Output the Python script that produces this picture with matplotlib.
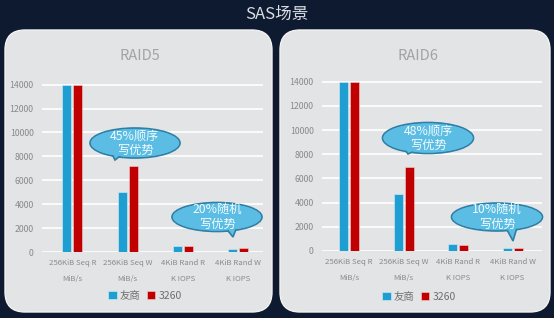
import matplotlib.pyplot as plt
from matplotlib.patches import FancyBboxPatch, Ellipse, Polygon

plt.rcParams['font.family'] = ['Noto Sans CJK SC', 'DejaVu Sans']

# data
categories = ['256KiB Seq R\nMiB/s', '256KiB Seq W\nMiB/s', '4KiB Rand R\nK IOPS', '4KiB Rand W\nK IOPS']
series_names = ['友商', '3260']
raid5_other = [14000, 5000, 500, 250]
raid5_3260 = [14000, 7200, 520, 300]
raid6_other = [14000, 4700, 550, 220]
raid6_3260 = [14000, 6950, 520, 240]
yticks = [0, 2000, 4000, 6000, 8000, 10000, 12000, 14000]

W, H = 554, 318
BLUE = '#1f9fd1'
RED = '#c00000'
PANEL = '#e3e4e6'
GRAY = '#8a8a8a'
BUB = '#5bbde3'
BUB_EDGE = '#2f7ea5'

fig = plt.figure(figsize=(W / 100, H / 100), dpi=100)
fig.patch.set_facecolor('#0e1a2f')


def fx(x):
    return x / W


def fy(y):
    return 1 - y / H


# 背景用（ピクセル座標）
bg = fig.add_axes([0, 0, 1, 1], zorder=-5)
bg.set_xlim(0, W)
bg.set_ylim(H, 0)
bg.axis('off')
for x0, x1 in [(5, 272), (280, 550)]:
    bg.add_patch(FancyBboxPatch((x0, 30), x1 - x0, 282,
                                boxstyle='round,pad=0,rounding_size=20',
                                facecolor=PANEL, edgecolor='#f2f2f2', lw=1))
bg.text(W / 2, 14, 'SAS场景', ha='center', va='center', color='#d9dee6', fontsize=12)

# 吹き出し用
fg = fig.add_axes([0, 0, 1, 1], zorder=5)
fg.set_xlim(0, W)
fg.set_ylim(H, 0)
fg.axis('off')


def bubble(cx, cy, w, h, tail, text):
    fg.add_patch(Ellipse((cx, cy), w, h, facecolor=BUB, edgecolor=BUB_EDGE, lw=1.2, zorder=1))
    fg.add_patch(Polygon(tail, closed=True, facecolor=BUB, edgecolor=BUB_EDGE, lw=1.2, zorder=2))
    fg.add_patch(Ellipse((cx, cy), w - 2, h - 2, facecolor=BUB, edgecolor='none', zorder=3))
    fg.text(cx, cy, text, ha='center', va='center', color='#f2fafd',
            fontsize=8.8, linespacing=1.15, zorder=4)


def draw(rect, title, tx, ty, other, ours, xlim, legend_pos):
    ax = fig.add_axes(rect)
    ax.set_facecolor('none')
    x = range(len(categories))
    ax.bar([i - 0.1 for i in x], other, width=0.165, color=BLUE,
           edgecolor='#d8eef7', lw=0.4, label=series_names[0], zorder=3)
    ax.bar([i + 0.1 for i in x], ours, width=0.165, color=RED,
           edgecolor='#f2d0d0', lw=0.4, label=series_names[1], zorder=3)
    ax.set_xlim(*xlim)
    ax.set_ylim(0, 14050)
    ax.set_yticks(yticks)
    ax.set_xticks(list(x))
    ax.set_xticklabels(categories, linespacing=2.3)
    ax.tick_params(axis='both', length=0, colors=GRAY)
    ax.tick_params(axis='y', pad=6, labelsize=6.3)
    ax.tick_params(axis='x', pad=5, labelsize=5.6)
    ax.grid(axis='y', color='white', lw=1.2, zorder=0)
    for s in ax.spines.values():
        s.set_visible(False)
    bg.text(tx, ty, title, ha='center', va='center', color='#a3a3a3', fontsize=10.5)
    ax.legend(loc='center', bbox_to_anchor=(fx(legend_pos[0]), fy(legend_pos[1])),
              bbox_transform=fig.transFigure, ncol=2, frameon=False,
              fontsize=7.5, handlelength=0.8, handleheight=0.8,
              handletextpad=0.3, columnspacing=0.6, labelcolor='#6f6f6f')
    return ax


draw([fx(42), fy(252), fx(221), (252 - 84) / H], 'RAID5', 140, 56,
     raid5_other, raid5_3260, (-0.55, 3.45), (145, 296))
draw([fx(322), fy(251), fx(220), (251 - 81) / H], 'RAID6', 418, 56,
     raid6_other, raid6_3260, (-0.5, 3.54), (419, 297))

bubble(135, 143, 90, 30, [(110, 150), (124, 153), (115, 160)], '45%顺序\n写优势')
bubble(217, 217, 90, 29, [(224, 226), (238, 224), (233, 237)], '20%随机\n写优势')
bubble(428, 138, 91, 31, [(402, 145), (418, 149), (408, 154)], '48%顺序\n写优势')
bubble(497, 217, 91, 28, [(505, 226), (518, 224), (513, 241)], '10%随机\n写优势')

fig.savefig('out.png', dpi=100, facecolor=fig.get_facecolor())
